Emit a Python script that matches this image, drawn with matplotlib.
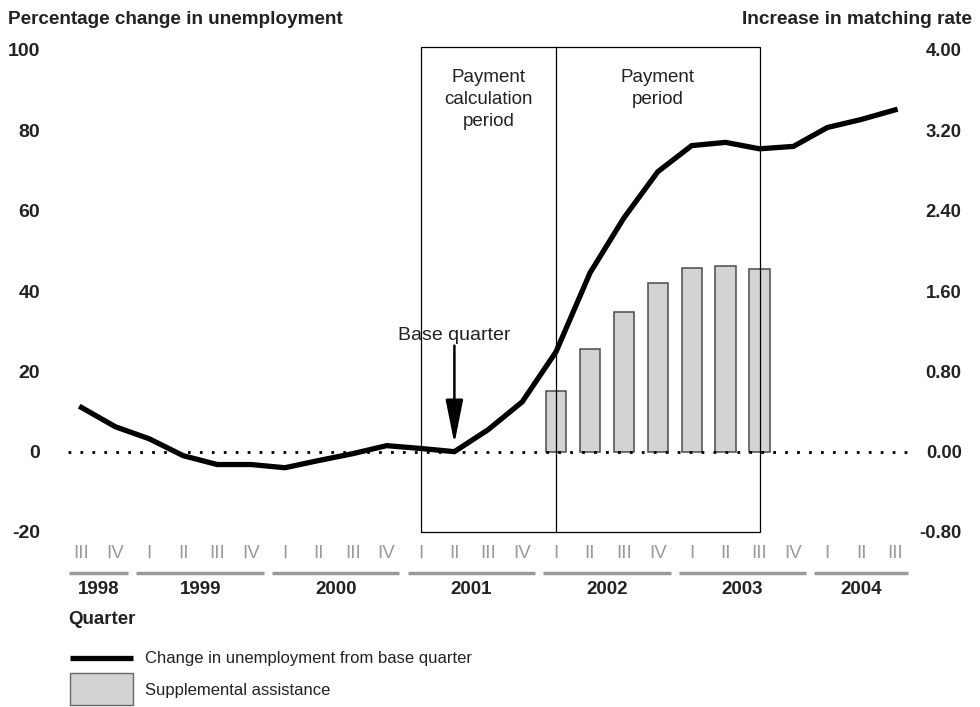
"""
Percentage change in unemployment vs. supplemental assistance (matching rate).
Dual-axis chart: line on the left axis, bars on the right axis.
"""

import matplotlib
matplotlib.use("Agg")
import matplotlib.pyplot as plt
from matplotlib.patches import Rectangle
from matplotlib.lines import Line2D
import matplotlib.transforms as mtransforms


# ── DATA ──────────────────────────────────────────────────────────────────────
QUARTERS = ["III", "IV",
            "I", "II", "III", "IV",
            "I", "II", "III", "IV",
            "I", "II", "III", "IV",
            "I", "II", "III", "IV",
            "I", "II", "III", "IV",
            "I", "II", "III"]
YEARS       = ["1998", "1999", "2000", "2001", "2002", "2003", "2004"]
YEAR_SPANS  = [(0, 1), (2, 5), (6, 9), (10, 13), (14, 17), (18, 21), (22, 24)]

UNEMP_CHANGE = [11, 6.2, 3.2, -1, -3.2, -3.2, -4, -2.2, -0.5, 1.5, 0.8, 0,
                5.5, 12.4, 24.9, 44.5, 58.2, 69.7, 76.2, 77, 75.4, 76,
                80.7, 82.7, 85.1]

BAR_QUARTERS = [14, 15, 16, 17, 18, 19, 20]          # 2002 I .. 2003 III
MATCH_RATE   = [0.60, 1.02, 1.39, 1.68, 1.83, 1.85, 1.82]

LEFT_TICKS  = [-20, 0, 20, 40, 60, 80, 100]
RIGHT_TICKS = [-0.80, 0.00, 0.80, 1.60, 2.40, 3.20, 4.00]

BASE_Q     = 11    # 2001 II
CALC_START = 10    # 2001 I
PAY_START  = 14    # 2002 I
PAY_END    = 20    # 2003 III
# ──────────────────────────────────────────────────────────────────────────────

FONT = "Liberation Sans"
GRAY = "#9a9a9c"
INK = "#222222"
BAR_FACE = "#d2d3d5"

plt.rcParams["font.family"] = [FONT, "DejaVu Sans"]

W, H = 980, 707
fig = plt.figure(figsize=(W / 100, H / 100), dpi=100)

# axes placed in pixel terms
left_px, right_px, top_px, bot_px = 68, 911, 50, 532
ax = fig.add_axes([left_px / W, 1 - bot_px / H,
                   (right_px - left_px) / W, (bot_px - top_px) / H])
ax2 = ax.twinx()

x0_px, step_px = 81.5, 33.9
ax.set_xlim((left_px - x0_px) / step_px, (right_px - x0_px) / step_px)
ax.set_ylim(-20, 100)
ax2.set_ylim(-0.8, 4.0)

for a in (ax, ax2):
    for s in a.spines.values():
        s.set_visible(False)
    a.set_xticks([])

ax.set_yticks(LEFT_TICKS)
ax.set_yticklabels([str(t) for t in LEFT_TICKS], fontweight="bold",
                   fontsize=14, color=INK)
ax.tick_params(axis="y", length=0, pad=20)
ax2.set_yticks(RIGHT_TICKS)
ax2.set_yticklabels([f"{t:.2f}" for t in RIGHT_TICKS], fontweight="bold",
                    fontsize=13.3, color=INK, ha="right")
ax2.tick_params(axis="y", length=0, pad=36.5)

# zero dotted line
ax.axhline(0, color="black", lw=2, linestyle=(0, (1, 3.3)), zorder=1)

# bars (right axis)
ax2.bar(BAR_QUARTERS, MATCH_RATE, width=0.6, color=BAR_FACE,
        edgecolor="#4a4a4a", linewidth=1.1, zorder=2)

# period box
ax.add_patch(Rectangle((CALC_START, -20), PAY_END - CALC_START, 120.8,
                       fill=False, edgecolor="black", lw=0.9, zorder=3, clip_on=False))
ax.plot([PAY_START, PAY_START], [-20, 100.8], color="black", lw=0.9, zorder=3,
        clip_on=False)

ax.text((CALC_START + PAY_START) / 2, 95.3, "Payment\ncalculation\nperiod",
        ha="center", va="top", fontsize=13.5, linespacing=1.38, color=INK)
ax.text((PAY_START + PAY_END) / 2, 95.3, "Payment\nperiod",
        ha="center", va="top", fontsize=13.5, linespacing=1.38, color=INK)

# unemployment line (left axis) drawn above bars
ax.set_zorder(ax2.get_zorder() + 1)
ax.patch.set_visible(False)
ax.plot(range(len(UNEMP_CHANGE)), UNEMP_CHANGE, color="black", lw=3.8,
        solid_joinstyle="miter", zorder=4)

# base quarter annotation
ax.text(BASE_Q, 29.0, "Base quarter", ha="center", va="center", fontsize=14,
        color=INK)
ax.annotate("", xy=(BASE_Q, 2.0), xytext=(BASE_Q, 26.4),
            arrowprops=dict(arrowstyle="-|>,head_length=1.5,head_width=0.3",
                            color="black", lw=1.8, shrinkA=0, shrinkB=0,
                            mutation_scale=18), zorder=5)

# quarter / year labels below axis
trans = mtransforms.blended_transform_factory(ax.transData, ax.transAxes)
ax_h = bot_px - top_px
for i, q in enumerate(QUARTERS):
    ax.text(i, -22 / ax_h, q, transform=trans, ha="center", va="center",
            fontsize=13.5, color=GRAY, clip_on=False)
for year, (s, e) in zip(YEARS, YEAR_SPANS):
    ax.add_line(Line2D([s - 0.38, e + 0.38], [-41 / ax_h] * 2, transform=trans,
                       color=GRAY, lw=2.5, clip_on=False, solid_capstyle="butt"))
    ax.text((s + e) / 2, -58 / ax_h, year, transform=trans, ha="center",
            va="center", fontsize=13.5, fontweight="bold", color=INK,
            clip_on=False)

# titles
fig.text(8 / W, 1 - 20 / H, "Percentage change in unemployment", ha="left",
         va="center", fontsize=13.6, fontweight="bold", color=INK)
fig.text(972 / W, 1 - 20 / H, "Increase in matching rate", ha="right",
         va="center", fontsize=13.8, fontweight="bold", color=INK)
fig.text(68 / W, 1 - 620 / H, "Quarter", ha="left", va="center",
         fontsize=13.5, fontweight="bold", color=INK)

# legend
fig.add_artist(Line2D([70 / W, 133 / W], [1 - 658 / H] * 2, color="black",
                      lw=3.8, transform=fig.transFigure, solid_capstyle="butt"))
fig.text(145 / W, 1 - 658 / H, "Change in unemployment from base quarter",
         ha="left", va="center", fontsize=12, color=INK)
fig.add_artist(Rectangle((70 / W, 1 - 705 / H), 63 / W, 32 / H,
                         transform=fig.transFigure, facecolor=BAR_FACE,
                         edgecolor="#666666", lw=1))
fig.text(145 / W, 1 - 691 / H, "Supplemental assistance", ha="left",
         va="center", fontsize=12, color=INK)

fig.savefig("out.png", dpi=100)
